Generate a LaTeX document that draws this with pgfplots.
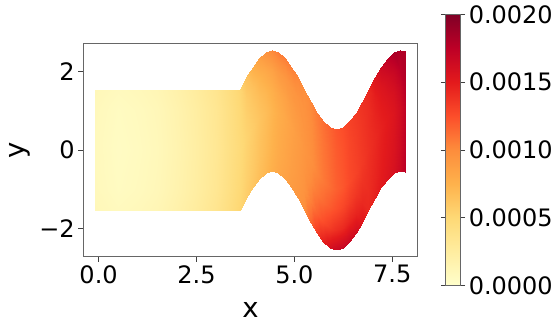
\documentclass[border=0pt]{standalone}
\usepackage{fontspec}
\setmainfont{DejaVu Sans}
\usepackage{pgfplots}
\pgfplotsset{compat=1.18}
\pgfplotsset{colormap={ylorrd}{rgb255=(255,255,204) rgb255=(255,237,160) rgb255=(254,217,118) rgb255=(254,178,76) rgb255=(253,141,60) rgb255=(252,78,42) rgb255=(227,26,28) rgb255=(189,0,38) rgb255=(128,0,38)}}
\begin{document}
\begin{tikzpicture}
\path[use as bounding box] (0,0) rectangle (552pt,330pt);
\begin{axis}[
  at={(83.3pt,73.3pt)}, anchor=south west, scale only axis,
  width=334.4pt, height=213.4pt,
  xmin=-0.39, xmax=8.15, ymin=-2.72, ymax=2.72,
  xtick={0,2.5,5,7.5}, xticklabels={0.0,2.5,5.0,7.5},
  ytick={-2,0,2}, yticklabels={−2,0,2},
  tick align=outside, tick pos=left, major tick length=5pt,
  axis line style={black!60, line width=1pt},
  every tick/.style={black!75, line width=1pt},
  tick label style={font=\fontsize{24}{28}\selectfont},
  /pgf/number format/assume math mode=true,
  xlabel={x}, ylabel={y},
  label style={font=\fontsize{27.5}{32}\selectfont},
  xlabel style={at={(axis description cs:0.5,-0.286)}, anchor=base},
  ylabel style={at={(axis description cs:-0.177,0.5)}, anchor=base, rotate=0},
  colormap name=ylorrd, colorbar, point meta min=0, point meta max=2,
  colorbar style={
    at={(parent axis.north east)}, anchor=north west,
    xshift=19.6pt, yshift=29pt, scale only axis,
    width=14.4pt, height=271.4pt,
    ytick={0,0.5,1,1.5,2},
    yticklabels={0.0000,0.0005,0.0010,0.0015,0.0020},
    yticklabel pos=right, tick align=outside, major tick length=5pt,
    axis line style={black!60, line width=1pt},
    every tick/.style={black!75, line width=1pt},
    tick label style={font=\fontsize{24}{28}\selectfont},
  },
]
\addplot[surf, shader=interp, mesh/cols=7, point meta=\thisrow{v}] table {
x y v
-0.1 -1.54 0.11
-0.1 -1.027 0.095
-0.1 -0.513 0.09
-0.1 0 0.09
-0.1 0.513 0.09
-0.1 1.027 0.095
-0.1 1.54 0.11
0.5 -1.54 0.08
0.5 -1.027 0.06
0.5 -0.513 0.055
0.5 0 0.05
0.5 0.513 0.055
0.5 1.027 0.06
0.5 1.54 0.08
1.0 -1.54 0.10
1.0 -1.027 0.08
1.0 -0.513 0.075
1.0 0 0.07
1.0 0.513 0.075
1.0 1.027 0.08
1.0 1.54 0.10
1.5 -1.54 0.13
1.5 -1.027 0.11
1.5 -0.513 0.105
1.5 0 0.10
1.5 0.513 0.105
1.5 1.027 0.11
1.5 1.54 0.13
2.0 -1.54 0.19
2.0 -1.027 0.17
2.0 -0.513 0.165
2.0 0 0.16
2.0 0.513 0.165
2.0 1.027 0.17
2.0 1.54 0.19
2.5 -1.54 0.26
2.5 -1.027 0.24
2.5 -0.513 0.235
2.5 0 0.23
2.5 0.513 0.235
2.5 1.027 0.24
2.5 1.54 0.26
3.0 -1.54 0.35
3.0 -1.027 0.33
3.0 -0.513 0.325
3.0 0 0.32
3.0 0.513 0.325
3.0 1.027 0.33
3.0 1.54 0.35
3.3 -1.54 0.43
3.3 -1.027 0.41
3.3 -0.513 0.405
3.3 0 0.40
3.3 0.513 0.405
3.3 1.027 0.41
3.3 1.54 0.43
3.61 -1.54 0.52
3.61 -1.027 0.50
3.61 -0.513 0.49
3.61 0 0.48
3.61 0.513 0.49
3.61 1.027 0.50
3.61 1.54 0.52
3.774 -1.231 0.57
3.774 -0.718 0.55
3.774 -0.204 0.54
3.774 0.309 0.53
3.774 0.822 0.55
3.774 1.336 0.58
3.774 1.849 0.65
3.938 -0.952 0.62
3.938 -0.439 0.60
3.938 0.075 0.59
3.938 0.588 0.58
3.938 1.101 0.61
3.938 1.615 0.66
3.938 2.128 0.77
4.102 -0.731 0.67
4.102 -0.218 0.65
4.102 0.296 0.64
4.102 0.809 0.63
4.102 1.322 0.67
4.102 1.836 0.74
4.102 2.349 0.87
4.266 -0.589 0.72
4.266 -0.076 0.70
4.266 0.438 0.69
4.266 0.951 0.68
4.266 1.464 0.72
4.266 1.978 0.81
4.266 2.491 0.96
4.43 -0.54 0.77
4.43 -0.027 0.75
4.43 0.487 0.74
4.43 1 0.73
4.43 1.513 0.77
4.43 2.027 0.86
4.43 2.54 1.02
4.594 -0.589 0.82
4.594 -0.076 0.80
4.594 0.438 0.79
4.594 0.951 0.78
4.594 1.464 0.82
4.594 1.978 0.91
4.594 2.491 1.06
4.758 -0.731 0.86
4.758 -0.218 0.84
4.758 0.296 0.83
4.758 0.809 0.82
4.758 1.322 0.86
4.758 1.836 0.93
4.758 2.349 1.06
4.922 -0.952 0.90
4.922 -0.439 0.88
4.922 0.075 0.87
4.922 0.588 0.86
4.922 1.101 0.89
4.922 1.615 0.94
4.922 2.128 1.05
5.086 -1.231 0.94
5.086 -0.718 0.92
5.086 -0.204 0.91
5.086 0.309 0.90
5.086 0.822 0.92
5.086 1.336 0.95
5.086 1.849 1.02
5.25 -1.54 0.98
5.25 -1.027 0.96
5.25 -0.513 0.95
5.25 0 0.94
5.25 0.513 0.95
5.25 1.027 0.96
5.25 1.54 0.98
5.414 -1.849 1.16
5.414 -1.336 1.06
5.414 -0.822 1.01
5.414 -0.309 0.98
5.414 0.204 0.99
5.414 0.718 1.00
5.414 1.231 1.02
5.578 -2.128 1.34
5.578 -1.615 1.17
5.578 -1.101 1.08
5.578 -0.588 1.03
5.578 -0.075 1.04
5.578 0.439 1.05
5.578 0.952 1.07
5.742 -2.349 1.48
5.742 -1.836 1.26
5.742 -1.322 1.14
5.742 -0.809 1.08
5.742 -0.296 1.09
5.742 0.218 1.10
5.742 0.731 1.12
5.906 -2.491 1.60
5.906 -1.978 1.34
5.906 -1.464 1.20
5.906 -0.951 1.13
5.906 -0.438 1.14
5.906 0.076 1.15
5.906 0.589 1.17
6.07 -2.54 1.67
6.07 -2.027 1.40
6.07 -1.513 1.25
6.07 -1 1.18
6.07 -0.487 1.19
6.07 0.027 1.20
6.07 0.54 1.22
6.234 -2.491 1.69
6.234 -1.978 1.43
6.234 -1.464 1.29
6.234 -0.951 1.22
6.234 -0.438 1.23
6.234 0.076 1.24
6.234 0.589 1.26
6.398 -2.349 1.67
6.398 -1.836 1.45
6.398 -1.322 1.33
6.398 -0.809 1.27
6.398 -0.296 1.28
6.398 0.218 1.29
6.398 0.731 1.31
6.562 -2.128 1.62
6.562 -1.615 1.45
6.562 -1.101 1.36
6.562 -0.588 1.31
6.562 -0.075 1.32
6.562 0.439 1.33
6.562 0.952 1.35
6.726 -1.849 1.53
6.726 -1.336 1.43
6.726 -0.822 1.38
6.726 -0.309 1.35
6.726 0.204 1.36
6.726 0.718 1.37
6.726 1.231 1.39
6.89 -1.54 1.43
6.89 -1.027 1.41
6.89 -0.513 1.40
6.89 0 1.39
6.89 0.513 1.40
6.89 1.027 1.41
6.89 1.54 1.43
7.054 -1.231 1.47
7.054 -0.718 1.45
7.054 -0.204 1.44
7.054 0.309 1.43
7.054 0.822 1.45
7.054 1.336 1.48
7.054 1.849 1.55
7.218 -0.952 1.51
7.218 -0.439 1.49
7.218 0.075 1.48
7.218 0.588 1.47
7.218 1.101 1.50
7.218 1.615 1.55
7.218 2.128 1.66
7.382 -0.731 1.55
7.382 -0.218 1.53
7.382 0.296 1.52
7.382 0.809 1.51
7.382 1.322 1.55
7.382 1.836 1.62
7.382 2.349 1.75
7.546 -0.589 1.59
7.546 -0.076 1.57
7.546 0.438 1.56
7.546 0.951 1.55
7.546 1.464 1.59
7.546 1.978 1.68
7.546 2.491 1.83
7.71 -0.54 1.66
7.71 -0.027 1.64
7.71 0.487 1.63
7.71 1 1.62
7.71 1.513 1.66
7.71 2.027 1.75
7.71 2.54 1.80
7.83 -0.566 1.76
7.83 -0.053 1.74
7.83 0.461 1.73
7.83 0.974 1.72
7.83 1.487 1.76
7.83 2.001 1.80
7.83 2.514 1.80
};
\end{axis}
\end{tikzpicture}
\end{document}
